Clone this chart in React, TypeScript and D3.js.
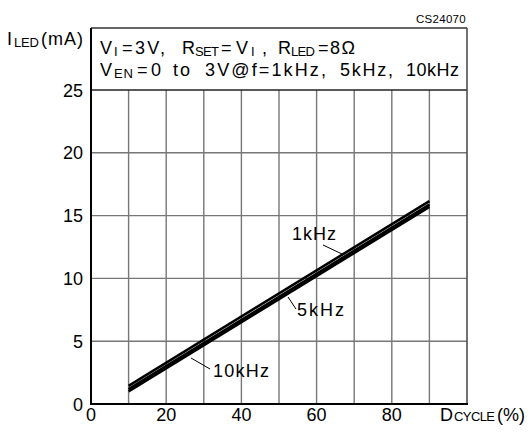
import React from "react";
import * as d3 from "d3";

const dutyCycle = [10, 90];
const iLed1k = [1.45, 16.15];
const iLed5k = [1.18, 15.88];
const iLed10k = [1.0, 15.7];
const xTicks = [0, 20, 40, 60, 80];
const yTicks = [0, 5, 10, 15, 20, 25];
const xGrid = [10, 20, 30, 40, 50, 60, 70, 80, 90];
const yGrid = [5, 10, 15, 20];

const FONT = "'Liberation Sans', Arial, sans-serif";

type SegProps = { x: number; y: number; t: string; len?: number; size?: number; anchor?: string };
function Seg({ x, y, t, len, size = 18, anchor = "start" }: SegProps) {
  return (
    <text x={x} y={y} fontSize={size} fill="#000" textAnchor={anchor}
      {...(len ? { textLength: len, lengthAdjust: "spacing" } : {})}>
      {t}
    </text>
  );
}

export default function App() {
  const W = 528, H = 435;
  const left = 91, right = 467, top = 28, y25 = 90, bottom = 404;
  const x = d3.scaleLinear().domain([0, 100]).range([left, right]);
  const y = d3.scaleLinear().domain([0, 25]).range([bottom, y25]);
  const line = d3.line<[number, number]>().x((d) => x(d[0])).y((d) => y(d[1]));
  const series = [iLed1k, iLed5k, iLed10k];
  const fs = 18;
  const sub = 13;
  const l1 = 54, l2 = 76, sd = 2;

  return (
    <svg width={W} height={H} style={{ position: "absolute", left: 0, top: 0, background: "#fff" }}
      fontFamily={FONT}>
      <rect x={0} y={0} width={W} height={H} fill="#fff" />
      {/* grid */}
      {xGrid.map((v) => (
        <line key={"gx" + v} x1={x(v)} x2={x(v)} y1={y25} y2={bottom} stroke="#777" strokeWidth={1.4} />
      ))}
      {yGrid.map((v) => (
        <line key={"gy" + v} x1={left} x2={right} y1={y(v)} y2={y(v)} stroke="#777" strokeWidth={1.4} />
      ))}
      <line x1={left} x2={right} y1={y25} y2={y25} stroke="#222" strokeWidth={1.5} />
      <line x1={left} x2={right} y1={top} y2={top} stroke="#333" strokeWidth={1.5} />
      <line x1={right} x2={right} y1={top} y2={bottom} stroke="#444" strokeWidth={1.5} />
      <line x1={left} x2={left} y1={top} y2={bottom + 1} stroke="#000" strokeWidth={2} />
      <line x1={left - 1} x2={right + 1} y1={bottom} y2={bottom} stroke="#000" strokeWidth={2.2} />

      {/* series */}
      {series.map((s, i) => (
        <path key={"s" + i}
          d={line(dutyCycle.map((d, j) => [d, s[j]] as [number, number])) || ""}
          fill="none" stroke="#000" strokeWidth={2.6} />
      ))}

      {/* annotations */}
      <line x1={323} y1={245} x2={342} y2={254} stroke="#000" strokeWidth={1} />
      <Seg x={292} y={240} t="1kHz" len={44} />
      <line x1={288} y1={297} x2={296} y2={309} stroke="#000" strokeWidth={1} />
      <Seg x={297} y={316} t="5kHz" len={47} />
      <line x1={191} y1={358} x2={210} y2={369} stroke="#000" strokeWidth={1} />
      <Seg x={213} y={377} t="10kHz" len={56} />

      {/* y ticks */}
      {yTicks.map((v) => (
        <text key={"yt" + v} x={83} y={y(v) + 6.5} fontSize={fs} textAnchor="end" fill="#000">{v}</text>
      ))}
      {/* x ticks */}
      {xTicks.map((v) => (
        <text key={"xt" + v} x={x(v)} y={421} fontSize={fs} textAnchor="middle" fill="#000">{v}</text>
      ))}

      {/* axis titles */}
      <Seg x={7} y={45} t="I" />
      <Seg x={14} y={45 + sd} t="LED" size={sub} len={25} />
      <Seg x={41} y={45} t="(mA)" len={42} />
      <Seg x={440} y={421} t="D" />
      <Seg x={454} y={421} t="CYCLE" size={sub} len={41} />
      <Seg x={497} y={421} t="(%)" len={28} />
      <text x={466} y={23} fontSize={11.5} textAnchor="end" fill="#000" letterSpacing={0.3}>CS24070</text>

      {/* header line 1 */}
      <Seg x={100} y={l1} t="V" />
      <Seg x={114} y={l1 + sd} t="I" size={sub} />
      <Seg x={122} y={l1} t="=3V," len={43} />
      <Seg x={182} y={l1} t="R" />
      <Seg x={195} y={l1 + sd} t="SET" size={sub} len={24} />
      <Seg x={221} y={l1} t="=V" len={27} />
      <Seg x={251} y={l1 + sd} t="I" size={sub} />
      <Seg x={262} y={l1} t="," />
      <Seg x={278} y={l1} t="R" />
      <Seg x={291} y={l1 + sd} t="LED" size={sub} len={24} />
      <Seg x={318} y={l1} t="=8Ω" len={37} />

      {/* header line 2 */}
      <Seg x={100} y={l2} t="V" />
      <Seg x={114} y={l2 + sd} t="EN" size={sub} len={19} />
      <Seg x={137} y={l2} t="=0" len={24} />
      <Seg x={173} y={l2} t="to" len={17} />
      <Seg x={205} y={l2} t="3V@f=1kHz," len={121} />
      <Seg x={340} y={l2} t="5kHz," len={53} />
      <Seg x={406} y={l2} t="10kHz" len={53} />
    </svg>
  );
}
